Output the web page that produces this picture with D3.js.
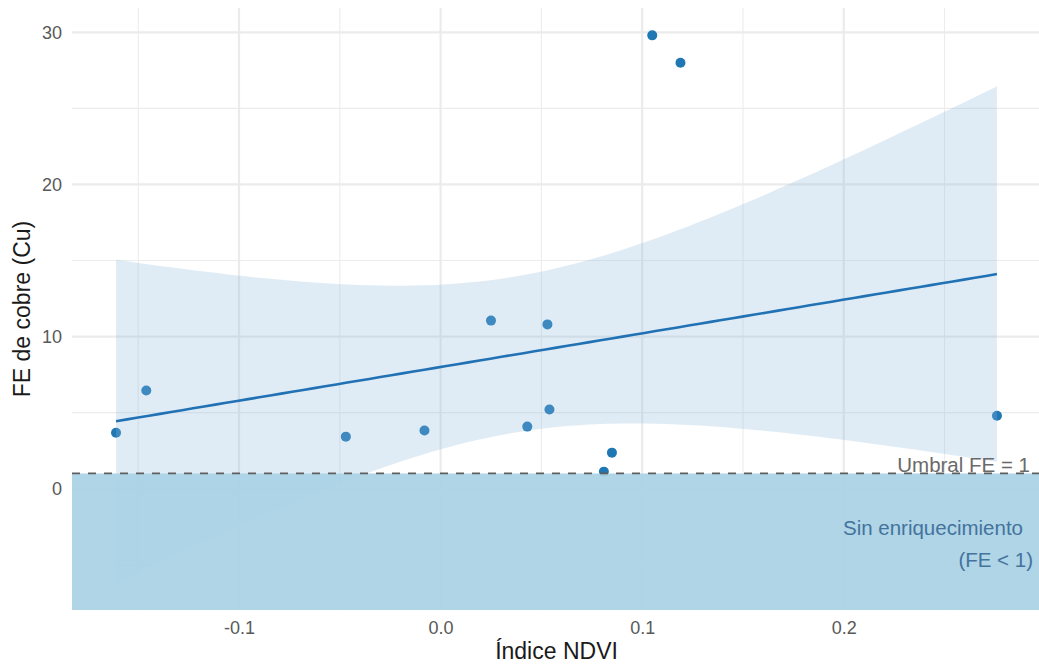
<!DOCTYPE html>
<html>
<head>
<meta charset="utf-8">
<script src="https://cdn.jsdelivr.net/npm/d3@7"></script>
<style>
  body { margin: 0; background: #ffffff; }
  svg { display: block; }
  text { font-family: "Liberation Sans", Arial, Helvetica, sans-serif; }
</style>
</head>
<body>
<svg id="chart" width="1039" height="671"></svg>
<script>
// NDVI index and copper enrichment factor per sample
const ndvi = [-0.161, -0.146, -0.047, -0.008, 0.025, 0.043, 0.053, 0.054, 0.081, 0.085, 0.105, 0.119, 0.276];
const feCu = [3.68, 6.45, 3.42, 3.82, 11.05, 4.08, 10.8, 5.2, 1.12, 2.37, 29.8, 28.0, 4.8];

// axis ticks
const xTicks = [-0.1, 0.0, 0.1, 0.2];
const xMinorTicks = [-0.15, -0.05, 0.05, 0.15, 0.25];
const yTicks = [0, 10, 20, 30];
const yMinorTicks = [-5, 5, 15, 25];

// enrichment threshold
const threshold = 1;

// labels
const xTitle = "Índice NDVI";
const yTitle = "FE de cobre (Cu)";
const thresholdLabel = "Umbral FE = 1";
const zoneLabel = ["Sin enriquecimiento", "(FE < 1)"];

// ---- linear fit with a 95% band (normal quantile) ----
const n = ndvi.length;
const mx = d3.mean(ndvi), my = d3.mean(feCu);
const sxx = d3.sum(ndvi, v => (v - mx) ** 2);
const sxy = d3.sum(ndvi.map((v, i) => (v - mx) * (feCu[i] - my)));
const slope = sxy / sxx;
const intercept = my - slope * mx;
const rss = d3.sum(ndvi.map((v, i) => (feCu[i] - (intercept + slope * v)) ** 2));
const sigma = Math.sqrt(rss / (n - 2));
const z = 1.96;
const [xLo, xHi] = d3.extent(ndvi);
const band = d3.range(0, 81).map(k => {
  const xv = xLo + (xHi - xLo) * k / 80;
  const fit = intercept + slope * xv;
  const se = sigma * Math.sqrt(1 / n + (xv - mx) ** 2 / sxx);
  return { x: xv, fit, lo: fit - z * se, hi: fit + z * se };
});

// ---- layout ----
const svg = d3.select("#chart");
const panel = { left: 72, right: 1041, top: 8, bottom: 610 };

function expand([a, b], f = 0.05) { const d = (b - a) * f; return [a - d, b + d]; }

const x = d3.scaleLinear()
  .domain(expand([xLo, xHi]))
  .range([panel.left, panel.right]);

const yMin = Math.min(d3.min(feCu), d3.min(band, d => d.lo));
const yMax = Math.max(d3.max(feCu), d3.max(band, d => d.hi));
const y = d3.scaleLinear()
  .domain(expand([yMin, yMax]))
  .range([panel.bottom, panel.top]);

// ---- grid ----
const grid = svg.append("g");
grid.selectAll(".vmin").data(xMinorTicks).join("line")
  .attr("x1", d => x(d)).attr("x2", d => x(d))
  .attr("y1", panel.top).attr("y2", panel.bottom)
  .attr("stroke", "#ececec").attr("stroke-width", 1.1);
grid.selectAll(".hmin").data(yMinorTicks).join("line")
  .attr("x1", panel.left).attr("x2", panel.right)
  .attr("y1", d => y(d)).attr("y2", d => y(d))
  .attr("stroke", "#ececec").attr("stroke-width", 1.1);
grid.selectAll(".vmaj").data(xTicks).join("line")
  .attr("x1", d => x(d)).attr("x2", d => x(d))
  .attr("y1", panel.top).attr("y2", panel.bottom)
  .attr("stroke", "#ebebeb").attr("stroke-width", 2.2);
grid.selectAll(".hmaj").data(yTicks).join("line")
  .attr("x1", panel.left).attr("x2", panel.right)
  .attr("y1", d => y(d)).attr("y2", d => y(d))
  .attr("stroke", "#ebebeb").attr("stroke-width", 2.2);

// ---- points (drawn beneath the band) ----
svg.append("g").selectAll("circle").data(ndvi).join("circle")
  .attr("cx", d => x(d))
  .attr("cy", (d, i) => y(feCu[i]))
  .attr("r", 5)
  .attr("fill", "#1f77b4");

// ---- confidence band and fitted line ----
svg.append("path").datum(band)
  .attr("d", d3.area().x(d => x(d.x)).y0(d => y(d.lo)).y1(d => y(d.hi)))
  .attr("fill", "#8fbadb").attr("fill-opacity", 0.28);

svg.append("path").datum(band)
  .attr("d", d3.line().x(d => x(d.x)).y(d => y(d.fit)))
  .attr("fill", "none").attr("stroke", "#2171b5").attr("stroke-width", 2.6);

// ---- no-enrichment zone ----
svg.append("rect")
  .attr("x", panel.left).attr("width", panel.right - panel.left)
  .attr("y", y(threshold)).attr("height", panel.bottom - y(threshold))
  .attr("fill", "#a9d2e5").attr("fill-opacity", 0.93);

svg.append("line")
  .attr("x1", panel.left).attr("x2", panel.right)
  .attr("y1", y(threshold)).attr("y2", y(threshold))
  .attr("stroke", "#5e5e5e").attr("stroke-width", 1.7)
  .attr("stroke-dasharray", "8,8");

svg.append("text")
  .attr("x", panel.right - 11).attr("y", y(threshold) - 1.5)
  .attr("text-anchor", "end").attr("font-size", 20.5).attr("fill", "#6a6a6a")
  .text(thresholdLabel);

svg.append("text")
  .attr("x", panel.right - 18).attr("y", 535)
  .attr("text-anchor", "end").attr("font-size", 20.5).attr("fill", "#44739c")
  .text(zoneLabel[0]);
svg.append("text")
  .attr("x", panel.right - 8).attr("y", 567)
  .attr("text-anchor", "end").attr("font-size", 20.5).attr("fill", "#44739c")
  .text(zoneLabel[1]);

// ---- axes ----
const xAxis = svg.append("g")
  .attr("transform", `translate(0,${panel.bottom})`)
  .call(d3.axisBottom(x).tickValues(xTicks).tickSize(0).tickPadding(11)
    .tickFormat(d => d.toFixed(1)));
xAxis.select(".domain").remove();
xAxis.selectAll("text").attr("font-size", 18).attr("fill", "#595959")
  .attr("font-family", "Liberation Sans, Arial, sans-serif");

const yAxis = svg.append("g")
  .attr("transform", `translate(${panel.left},0)`)
  .call(d3.axisLeft(y).tickValues(yTicks).tickSize(0).tickPadding(10)
    .tickFormat(d => String(d)));
yAxis.select(".domain").remove();
yAxis.selectAll("text").attr("font-size", 18).attr("fill", "#595959")
  .attr("font-family", "Liberation Sans, Arial, sans-serif");

// ---- titles ----
svg.append("text")
  .attr("x", (panel.left + panel.right) / 2).attr("y", 659)
  .attr("text-anchor", "middle").attr("font-size", 23).attr("fill", "#1a1a1a")
  .text(xTitle);

svg.append("text")
  .attr("transform", `translate(30,${(panel.top + panel.bottom) / 2}) rotate(-90)`)
  .attr("text-anchor", "middle").attr("font-size", 23).attr("fill", "#1a1a1a")
  .text(yTitle);
</script>
</body>
</html>
